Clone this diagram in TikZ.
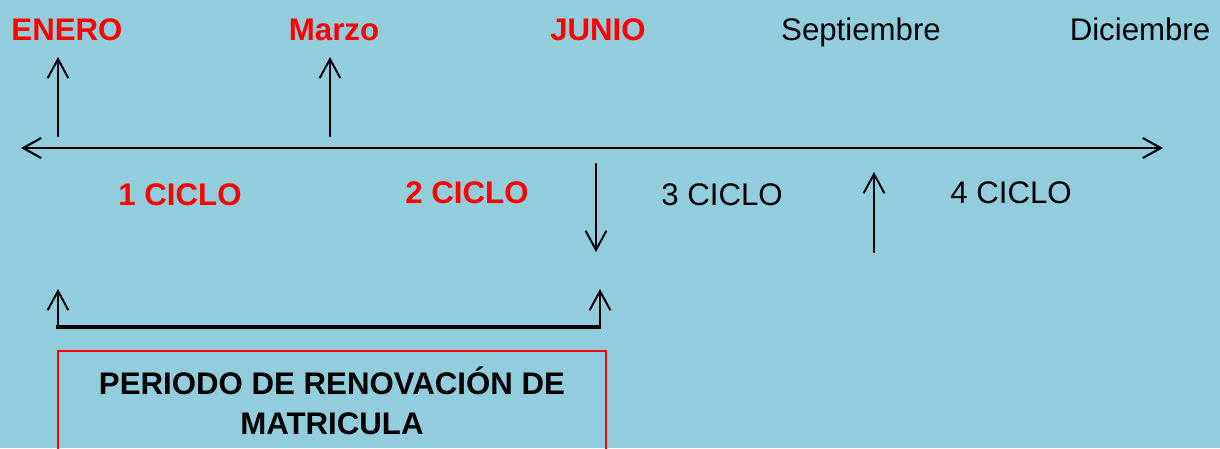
\documentclass[tikz,border=0pt]{standalone}
\usepackage{fontspec}
\setmainfont{Liberation Sans}
\usetikzlibrary{arrows.meta, positioning}
\definecolor{sky}{RGB}{146,205,220}
\tikzstyle{hot} = [font=\fontsize{22.2}{27}\selectfont\bfseries, text=red, inner sep=0pt, anchor=base]
\tikzstyle{plain} = [font=\fontsize{22.2}{27}\selectfont, text=black, inner sep=0pt, anchor=base]
\tikzstyle{regbox} = [rectangle, draw=red, line width=1pt, minimum width=13.7cm, minimum height=2.5cm, align=center, font=\fontsize{22.2}{28.4}\selectfont\bfseries, inner sep=0pt]
\tikzstyle{arrow} = [line width=1.4pt,-{Straight Barb[length=0.48cm, width=0.52cm]}]
\tikzstyle{axis} = [line width=1.5pt,{Straight Barb[length=0.45cm, width=0.5cm]}-{Straight Barb[length=0.45cm, width=0.5cm]}]

\begin{document}
\begin{tikzpicture}[x=0.025cm, y=-0.025cm]

% Background
\fill[sky] (0,0) rectangle (1220,448);
\clip (0,0) rectangle (1220,448);

% Months
\node[hot] (enero) at (67,40) {ENERO};
\node[hot] (marzo) at (334,40) {Marzo};
\node[hot] (junio) at (598,40) {JUNIO};
\node[plain] (septiembre) at (861,40) {Septiembre};
\node[plain] (diciembre) at (1140,40) {Diciembre};

% Cycles
\node[hot] (ciclo1) at (180,205) {1 CICLO};
\node[hot] (ciclo2) at (467,203) {2 CICLO};
\node[plain] (ciclo3) at (722,205) {3 CICLO};
\node[plain] (ciclo4) at (1011,203) {4 CICLO};

% Time line
\coordinate (lineL) at (21,148);
\coordinate (lineR) at (1163,148);
\coordinate (markA) at (58,148);
\coordinate (markB) at (101,148);
\draw[axis] (lineL) -- (lineR);
\draw[line width=2pt] (markA) -- (markB);

% Pointers
\coordinate (eneroF) at (58,137);  \coordinate (eneroT) at (58,57);
\coordinate (marzoF) at (330,137); \coordinate (marzoT) at (330,57);
\coordinate (junioF) at (596,163); \coordinate (junioT) at (596,252);
\coordinate (septF) at (874,253);  \coordinate (septT) at (874,172);
\draw[arrow] (eneroF) -- (eneroT);
\draw[arrow] (marzoF) -- (marzoT);
\draw[arrow] (junioF) -- (junioT);
\draw[arrow] (septF) -- (septT);

% Renewal period
\coordinate (bracketL) at (56,327);
\coordinate (bracketR) at (601,327);
\coordinate (openF) at (58,327);  \coordinate (openT) at (58,289);
\coordinate (closeF) at (600,327); \coordinate (closeT) at (600,289);
\draw[line width=3pt] (bracketL) -- (bracketR);
\draw[arrow] (openF) -- (openT);
\draw[arrow] (closeF) -- (closeT);

\node[regbox] (periodo) at (332,401) {PERIODO DE RENOVACIÓN DE\\MATRICULA};

\end{tikzpicture}
\end{document}
